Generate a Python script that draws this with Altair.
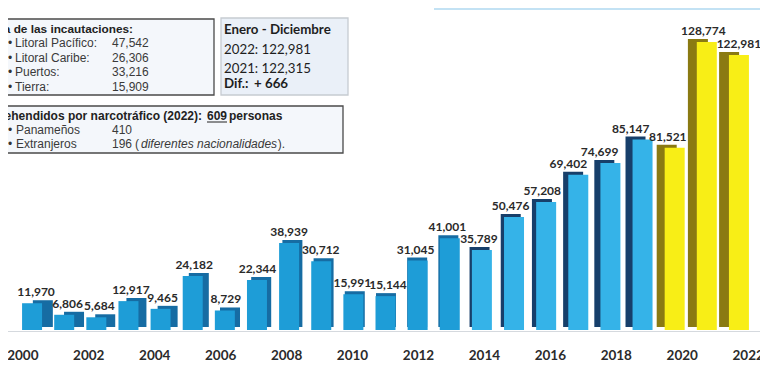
import altair as alt
import pandas as pd

# ---------------- data ----------------
years = list(range(2000, 2023))
values = [11970, 6806, 5684, 12917, 9465, 24182, 8729, 22344, 38939, 30712,
          15991, 15144, 31045, 41001, 35789, 50476, 57208, 69402, 74699,
          85147, 81521, 128774, 122981]
groups = ["a"] * 14 + ["b"] * 6 + ["c"] * 3
axis_years = list(range(2000, 2023, 2))

seizure_title = "Mapa de las incautaciones:"
seizure_places = ["Litoral Pacífico:", "Litoral Caribe:", "Puertos:", "Tierra:"]
seizure_values = ["47,542", "26,306", "33,216", "15,909"]

summary_title = "Enero - Diciembre"
summary_lines = ["2022: 122,981", "2021: 122,315"]
diff_label = "Dif.:"
diff_value = "+ 666"

arrest_title = "Aprehendidos por narcotráfico (2022):"
arrest_total = "609"
arrest_unit = "personas"
arrest_groups = ["Panameños", "Extranjeros"]
arrest_values = ["410", "196"]
arrest_note_open = "("
arrest_note = "diferentes nacionalidades"
arrest_note_close = ")."

# ---------------- layout ----------------
W, H = 749, 315
STEP = W / 23
YMAX = 140846

df = pd.DataFrame({"year": years, "value": values, "group": groups})
df["label"] = [f"{v:,}" for v in values]
adf = pd.DataFrame({"year": axis_years})
one = pd.DataFrame({"k": [0]})

xs = alt.Scale(domain=[1999.5, 2022.5], nice=False, zero=False)
ys = alt.Scale(domain=[0, YMAX], nice=False)

side = alt.Chart(df).transform_calculate(
    sx=f"datum.year + (2011.5 - datum.year) * 0.95 / {STEP}"
).mark_bar(width=20, yOffset=-3).encode(
    x=alt.X("sx:Q", scale=xs, axis=None),
    y=alt.Y("value:Q", scale=ys, axis=None),
    color=alt.Color("group:N", scale=alt.Scale(domain=["a", "b", "c"],
                    range=["#166ca3", "#173f6a", "#8a7a12"]), legend=None),
)

front = alt.Chart(df).mark_bar(width=20).encode(
    x=alt.X("year:Q", scale=xs, axis=None),
    y=alt.Y("value:Q", scale=ys, axis=None),
    color=alt.Color("group:N", scale=alt.Scale(domain=["a", "b", "c"],
                    range=["#1e9dd7", "#35b3e8", "#f8ee16"]), legend=None),
)

# label nudges (pixels) that follow the perspective of the original picture
label_shift = ("(datum.year == 2011 ? 2.5 : "
               "datum.year <= 2016 ? (2008 - datum.year) * 0.5 : "
               "datum.year <= 2019 ? (2007 - datum.year) : "
               "(datum.year - 2020) * 3.5 - 7)")

labels = alt.Chart(df).transform_calculate(
    lx=f"datum.year + {label_shift} / {STEP}"
).mark_text(font="Lato", fontWeight="bold", fontSize=12, color="#2a2a2a",
            baseline="alphabetic", dy=-7).encode(
    x=alt.X("lx:Q", scale=xs, axis=None),
    y=alt.Y("value:Q", scale=ys, axis=None),
    text="label:N",
)

xlabels = alt.Chart(adf).transform_calculate(
    ax=f"datum.year + (datum.year - 2011) * 0.85 / {STEP}"
).mark_text(font="Lato", fontWeight="bold", fontSize=13.5, color="#2b2b2b",
            baseline="alphabetic").encode(
    x=alt.X("ax:Q", scale=xs, axis=None),
    y=alt.value(H + 30),
    text=alt.Text("year:Q", format="d"),
)

floor = alt.Chart(one).mark_rule(color="#d5d9de", strokeWidth=1).encode(
    x=alt.value(-3), x2=alt.value(W), y=alt.value(H + 1.5))
topline = alt.Chart(one).mark_rule(color="#c3e2f4", strokeWidth=2).encode(
    x=alt.value(423), x2=alt.value(W), y=alt.value(-6))


def box(x1, x2, y1, y2, fill, stroke, sw=1.3):
    return alt.Chart(one).mark_rect(fill=fill, stroke=stroke, strokeWidth=sw).encode(
        x=alt.value(x1), x2=alt.value(x2), y=alt.value(y1), y2=alt.value(y2))


def txt(s, x, y, font="Liberation Sans", size=12, weight="normal", style="normal",
        align="left", color="#262626"):
    return alt.Chart(one).mark_text(font=font, fontSize=size, fontWeight=weight,
                                    fontStyle=style, align=align, baseline="alphabetic",
                                    color=color).encode(
        x=alt.value(x), y=alt.value(y), text=alt.value(s))


ann = [
    box(-16, 203, 4, 80, "#f4f7fb", "#4a4a4a"),
    box(210, 337, 3, 80, "#eaf0f8", "#c6cbd1"),
    box(-16, 332, 91, 138, "#f4f7fb", "#4a4a4a"),
    txt(seizure_title, 122, 18, size=11.8, weight="bold", align="right", color="#222"),
]
row_y = [32, 46.5, 61, 75.5]
for i, (p, v) in enumerate(zip(seizure_places, seizure_values)):
    ann += [txt("•", -1, row_y[i], align="center", color="#333"),
            txt(p, 4, row_y[i], color="#3a3a3a"),
            txt(v, 101, row_y[i], color="#3a3a3a")]

ann += [txt(summary_title, 213, 19, font="Lato", size=13.3, weight="bold", color="#1e1e1e")]
for yy, s in zip([38.5, 57.5], summary_lines):
    ann.append(txt(s, 213, yy, font="Lato", size=13.3, color="#1e1e1e"))
ann += [txt(diff_label, 213, 73, font="Lato", size=13.3, weight="bold", color="#1e1e1e"),
        txt(diff_value, 243, 73, font="Lato", size=13.3, weight="bold", color="#1e1e1e")]

ann += [txt(arrest_title, 191, 104.5, size=12, weight="bold", align="right", color="#222"),
        txt(arrest_total, 196, 104.5, size=12, weight="bold", color="#222"),
        alt.Chart(one).mark_rule(color="#222", strokeWidth=1).encode(
            x=alt.value(196), x2=alt.value(216), y=alt.value(107)),
        txt(arrest_unit, 218, 104.5, size=12, weight="bold", color="#222")]
for yy, g, v in zip([118.5, 133], arrest_groups, arrest_values):
    ann += [txt("•", -1, yy, align="center", color="#333"),
            txt(g, 5, yy, color="#3a3a3a"),
            txt(v, 101, yy, color="#3a3a3a")]
ann += [txt(arrest_note_open, 124, 133, color="#3a3a3a"),
        txt(arrest_note, 130, 133, style="italic", color="#3a3a3a"),
        txt(arrest_note_close, 274, 133, align="right", color="#3a3a3a")]

chart = alt.layer(floor, topline, side, front, labels, xlabels, *ann).resolve_scale(
    color="independent"
).properties(
    width=W, height=H,
    autosize=alt.AutoSizeParams(type="none"),
    padding={"left": 3, "top": 7, "right": 0, "bottom": 36},
    background="white",
).configure_view(stroke=None)

chart.save("out.html", embed_options={"renderer": "svg", "actions": False})
